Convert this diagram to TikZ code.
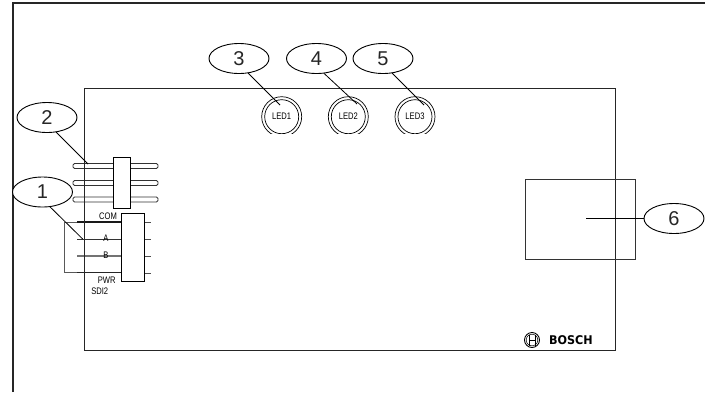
\documentclass[tikz,border=0pt]{standalone}
\usepackage{fontspec}
\setmainfont{Liberation Sans}
\newfontfamily\logofont{DejaVu Sans}
\usetikzlibrary{shapes.geometric}
\tikzset{
  callout/.style={draw, ellipse, minimum width=60pt, minimum height=30pt, inner sep=0pt, fill=white, text=black!85, font=\fontsize{20}{20}\selectfont, line width=0.9pt},
  leader/.style={line width=0.8pt},
  pin/.style={draw=black!80, rounded corners=1.5pt, line width=0.8pt, minimum width=85pt, minimum height=5pt, inner sep=0pt},
  pinlabel/.style={inner sep=0pt, xscale=0.8, font=\fontsize{9.5}{9.5}\selectfont},
}
\begin{document}
\begin{tikzpicture}[x=1pt, y=-1pt]
      \useasboundingbox (0,0) rectangle (705,392);
      % frame
      \draw[line width=2pt, black!85] (12.5,392) -- (12.5,3) -- (705,3);
      % pin header
      \foreach \y/\n in {166/a, 183/b, 199.5/c} {
        \node[pin] (pin\n) at (115.5,\y) {};
      }
      \draw[line width=0.8pt, fill=white] (113.3,157.3) rectangle (130.7,208.3);
      \coordinate (pintip) at (88,164);
      % terminal block
      \draw[line width=0.9pt, black!65] (122,222) -- (64,222) -- (64,272.5) -- (122,272.5);
      \draw[line width=1.2pt, black!90] (77,222) -- (122,222);
      \draw[line width=0.7pt, black!80] (77,239) -- (151,239);
      \draw[line width=1.2pt, black!55] (77,256) -- (122,256);
      \draw[line width=1.2pt, black!85] (77,272.5) -- (122,272.5);
      \foreach \y in {222, 239, 256, 273} {
        \draw[line width=0.7pt, black!70] (144,\y) -- (151,\y);
      }
      \node[draw, line width=0.8pt, fill=white, minimum width=23.4pt, minimum height=68pt, inner sep=0pt] (block) at (133,247.3) {};
      \node[pinlabel] (lblcom) at (108,216) {COM};
      \node[pinlabel] (lbla) at (106,238) {A};
      \node[pinlabel] (lblb) at (106,255.5) {B};
      \node[pinlabel] (lblpwr) at (106.7,280.7) {PWR};
      \node[pinlabel] (lblsdi) at (99.7,291.7) {SDI2};
      \coordinate (atip) at (82.7,239);
      % board
      \draw[line width=1pt, black!85] (84,88) rectangle (615,350);
      % leds
      \foreach \x/\n/\t in {281.7/a/LED1, 348.3/b/LED2, 415/c/LED3} {
        \begin{scope}
          \clip (\x-25,90) rectangle (\x+25,133.6);
          \draw[line width=0.7pt] (\x,116.7) circle (20pt);
          \draw[line width=0.7pt] (\x,116.7) circle (17pt);
        \end{scope}
        \node[pinlabel] (led\n) at (\x,116.5) {\t};
      }
      \coordinate (tipa) at (280,105);
      \coordinate (tipb) at (357,104);
      \coordinate (tipc) at (424,105);
      % display
      \draw[line width=0.9pt, black!80] (525.7,179) rectangle (635,259);
      \coordinate (disp) at (586,218.5);
      % logo
      \node[draw, circle, line width=0.9pt, minimum size=15pt, inner sep=0pt] (logo) at (532,340) {};
      \draw[line width=0.5pt] (532,340) circle (5.8pt);
      \draw[line width=0.7pt] (529,334.5) -- (529,345.5) (535,334.5) -- (535,345.5) (529,340) -- (535,340);
      \node[inner sep=0pt, xscale=0.93, font=\logofont\bfseries\fontsize{12}{12}\selectfont] (brand) at (571,340) {BOSCH};
      % callouts
      \node[callout] (c1) at (42.5,192) {1};
      \node[callout] (c2) at (47,117.5) {2};
      \node[callout] (c3) at (239,58.5) {3};
      \node[callout] (c4) at (316.5,58.5) {4};
      \node[callout] (c5) at (383,58.5) {5};
      \node[callout] (c6) at (674,218.5) {6};
      \draw[leader] (c1.-63) -- (atip);
      \draw[leader] (c2.-58) -- (pintip);
      \draw[leader] (c3.-58) -- (tipa);
      \draw[leader] (c4.-63) -- (tipb);
      \draw[leader] (c5.-58) -- (tipc);
      \draw[leader] (c6) -- (disp);
    \end{tikzpicture}
\end{document}
